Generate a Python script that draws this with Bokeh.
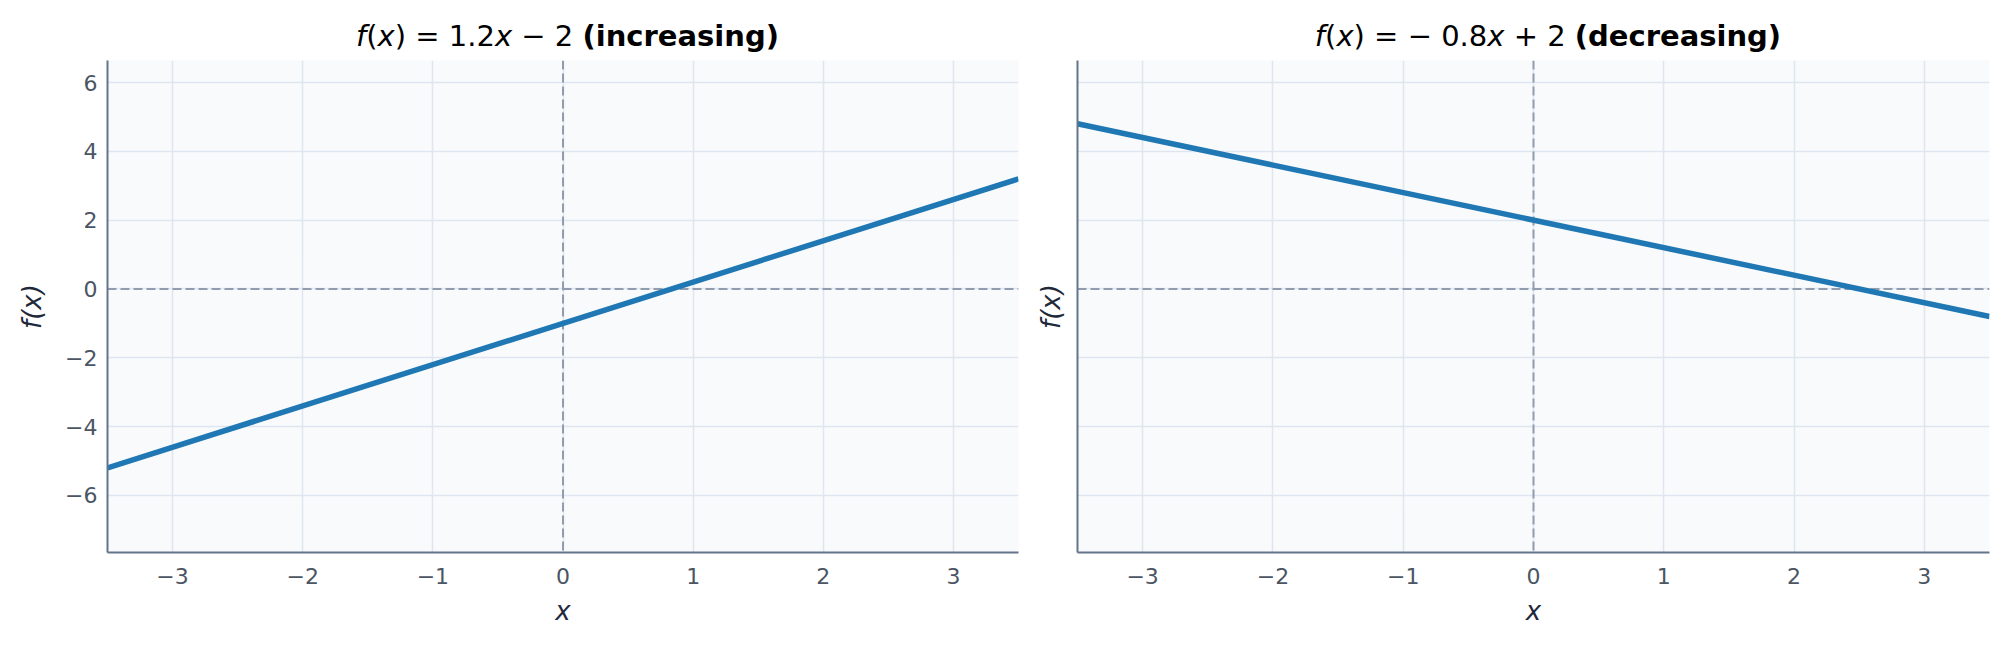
from bokeh.plotting import figure
from bokeh.layouts import row, column
from bokeh.models import Span, Range1d, FixedTicker, Div
from bokeh.embed import file_html
from bokeh.resources import INLINE

# ---- data ----
x_vals = [-3.5, 3.5]
y_increasing = [-5.2, 3.2]
y_decreasing = [4.8, -0.8]

x_ticks = [-3, -2, -1, 0, 1, 2, 3]
x_tick_labels = ["−3", "−2", "−1", "0", "1", "2", "3"]
y_ticks = [-6, -4, -2, 0, 2, 4, 6]
y_tick_labels = ["−6", "−4", "−2", "0", "2", "4", "6"]

title_math = ["<i>f</i>(<i>x</i>) = 1.2<i>x</i> − 2",
              "<i>f</i>(<i>x</i>) = − 0.8<i>x</i> + 2"]
title_bold = ["(increasing)", "(decreasing)"]
x_label = "x"
y_label = "f(x)"

x_limits = (-3.5, 3.5)
y_limits = (-7.66, 6.64)

FONT = "DejaVu Sans"
BG = "#f8fafc"
GRID = "#dfe6ef"
SPINE = "#64748b"
TICKTXT = "#4b5563"
LABELTXT = "#1e293b"
ZERO = "#919dae"
LINE = "#1f77b4"

TITLE_H = 48
shared_y = Range1d(*y_limits)


def make_panel(y_vals, width, border_left, border_right, show_y_labels):
    p = figure(width=width, height=580, output_backend="svg", toolbar_location=None,
               x_range=Range1d(*x_limits), y_range=shared_y,
               min_border_left=border_left, min_border_right=border_right,
               min_border_top=2, min_border_bottom=86)
    p.background_fill_color = BG
    p.border_fill_color = "white"
    p.outline_line_color = None

    for ax in (p.xaxis[0], p.yaxis[0]):
        ax.axis_line_color = SPINE
        ax.axis_line_width = 2
        ax.major_tick_line_color = None
        ax.minor_tick_line_color = None
        ax.major_tick_out = 0
        ax.major_tick_in = 0
        ax.major_label_text_color = TICKTXT
        ax.major_label_text_font = FONT
        ax.major_label_text_font_size = "22px"
        ax.axis_label_text_font = FONT
        ax.axis_label_text_font_size = "26px"
        ax.axis_label_text_font_style = "italic"
        ax.axis_label_text_color = LABELTXT

    p.xaxis.ticker = FixedTicker(ticks=x_ticks)
    p.xaxis.major_label_overrides = {t: l for t, l in zip(x_ticks, x_tick_labels)}
    p.xaxis.major_label_standoff = 15
    p.xaxis.axis_label = x_label
    p.xaxis.axis_label_standoff = 9
    p.yaxis.axis_label = y_label
    if show_y_labels:
        p.yaxis.ticker = FixedTicker(ticks=y_ticks)
        p.yaxis.major_label_overrides = {t: l for t, l in zip(y_ticks, y_tick_labels)}
        p.yaxis.major_label_standoff = 10
        p.yaxis.axis_label_standoff = 15
    else:
        p.yaxis.ticker = FixedTicker(ticks=[])
        p.yaxis.major_label_standoff = 0
        p.yaxis.axis_label_standoff = 12

    p.xgrid.ticker = FixedTicker(ticks=x_ticks)
    p.ygrid.ticker = FixedTicker(ticks=y_ticks)
    p.xgrid.grid_line_color = GRID
    p.ygrid.grid_line_color = GRID
    p.xgrid.grid_line_width = 1.5
    p.ygrid.grid_line_width = 1.5

    p.add_layout(Span(location=0, dimension="width", line_color=ZERO,
                      line_dash="9 4", line_width=2, level="underlay"))
    p.add_layout(Span(location=0, dimension="height", line_color=ZERO,
                      line_dash="9 4", line_width=2, level="underlay"))

    p.line(x_vals, y_vals, line_color=LINE, line_width=5.5)
    return p


def make_title(math_txt, bold_txt, width, border_left, frame_w):
    html = (f'<div style="width:{frame_w}px;margin-left:{border_left}px;'
            f'text-align:center;font-family:\'DejaVu Sans\';font-size:29px;'
            f'padding-top:14px;line-height:34px;color:black;white-space:nowrap;">'
            f'{math_txt} <b>{bold_txt}</b></div>')
    return Div(text=html, width=width, height=TITLE_H)


p1 = make_panel(y_increasing, 1028, 107, 10, True)
p2 = make_panel(y_decreasing, 971, 49, 10, False)
t1 = make_title(title_math[0], title_bold[0], 1028, 107, 911)
t2 = make_title(title_math[1], title_bold[1], 971, 49, 912)

layout = column(row(t1, t2), row(p1, p2))
open("out.html", "w").write(file_html(layout, INLINE))
